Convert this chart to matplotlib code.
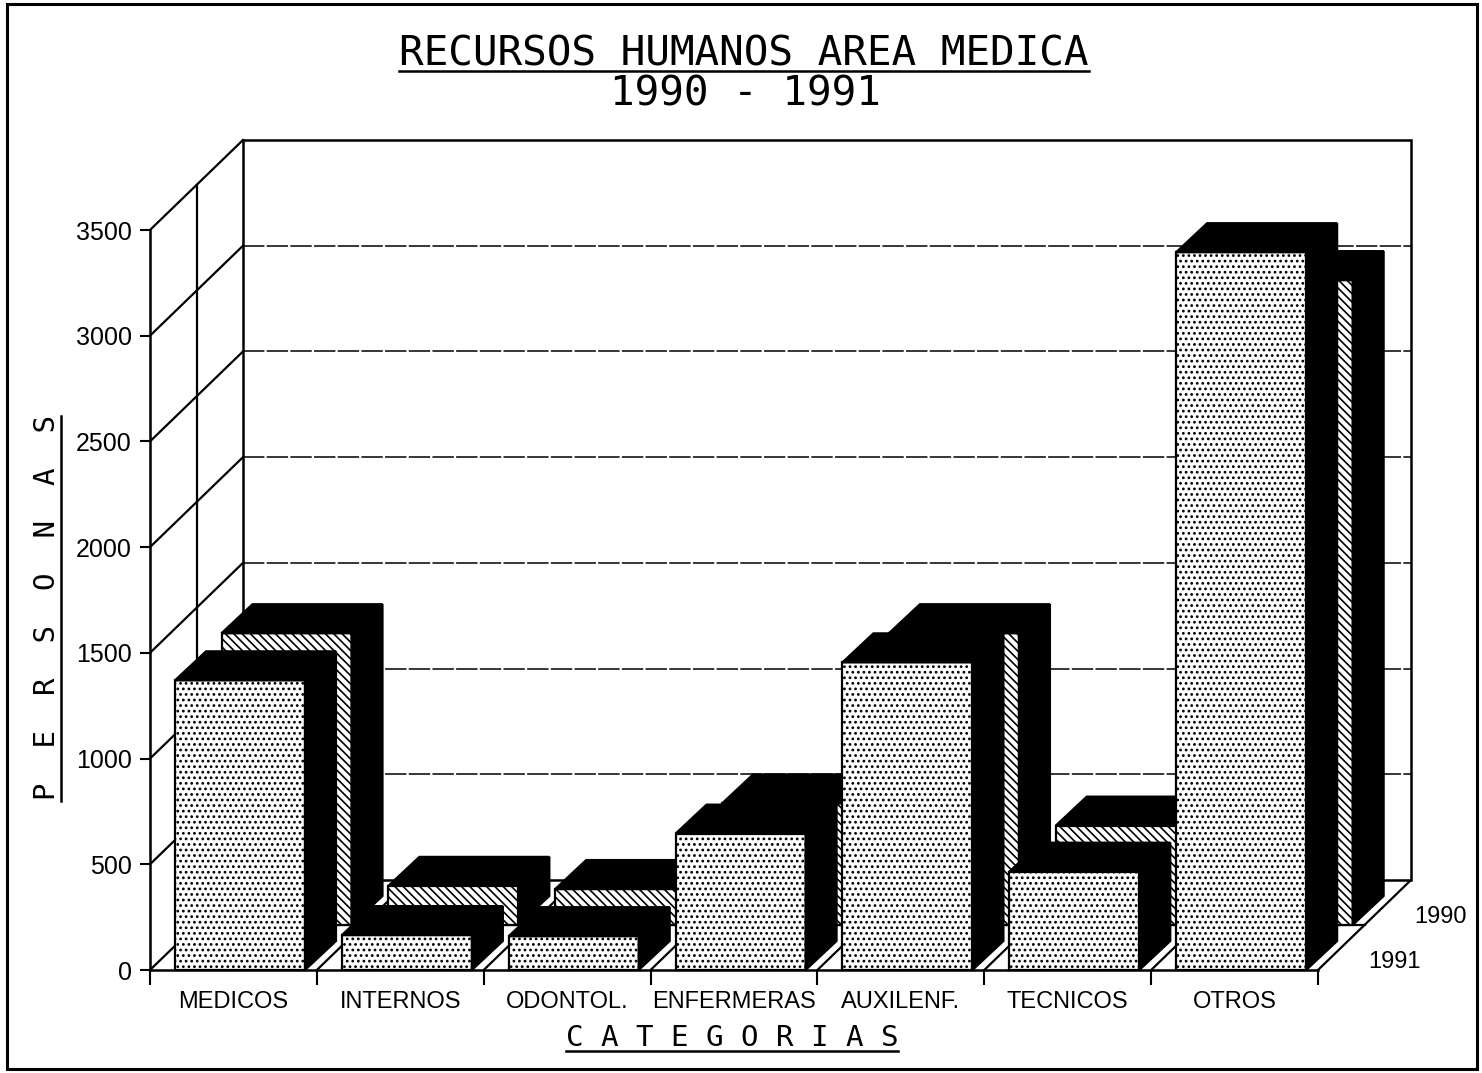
import matplotlib
matplotlib.use("Agg")
import matplotlib.pyplot as plt
from matplotlib.patches import Polygon, Rectangle
from matplotlib.lines import Line2D

plt.rcParams['font.family'] = ['Liberation Sans', 'DejaVu Sans']
plt.rcParams['hatch.linewidth'] = 1.2
MONO = ['DejaVu Sans Mono', 'DejaVu Sans']

# data
categories = ['MEDICOS', 'INTERNOS', 'ODONTOL.', 'ENFERMERAS', 'AUXILENF.', 'TECNICOS', 'OTROS']
values_1991 = [1370, 165, 160, 645, 1455, 465, 3395]
values_1990 = [1380, 185, 170, 575, 1380, 470, 3050]
years = ['1991', '1990']          # front row, back row
y_ticks = [0, 500, 1000, 1500, 2000, 2500, 3000, 3500]

W, H = 1482, 1073
fig = plt.figure(figsize=(W / 100, H / 100), dpi=100)
# axes = front plane of the 3D box
ax = fig.add_axes([150 / W, (H - 970) / H, 1168 / W, 740 / H])
ax.set_xlim(0, len(categories))
ax.set_ylim(0, 3500)
ax.patch.set_visible(False)

# oblique depth (in data units)
px_x = 1168 / len(categories)
px_y = 740 / 3500
WALL_DX, WALL_DY = 93 / px_x, 90 / px_y
ROW_DX, ROW_DY = WALL_DX / 2, WALL_DY / 2
BAR_DX, BAR_DY = 31 / px_x, 29 / px_y
BAR_W, BAR_OFF = 130 / px_x, 25 / px_x
n = len(categories)


def seg(x0, y0, x1, y1, **kw):
    kw.setdefault('color', 'black')
    kw.setdefault('lw', 1.6)
    ax.add_line(Line2D([x0, x1], [y0, y1], clip_on=False, zorder=1, **kw))


# back wall
ax.add_patch(Rectangle((WALL_DX, WALL_DY), n, 3500, fill=False, lw=1.8,
                       clip_on=False, zorder=1))
for v in y_ticks[1:-1]:
    seg(WALL_DX, v + WALL_DY, n + WALL_DX, v + WALL_DY, lw=1.1, ls=(0, (14, 1.5)))
# left wall
for v in y_ticks:
    seg(0, v, WALL_DX, v + WALL_DY)
seg(ROW_DX, ROW_DY, ROW_DX, 3500 + ROW_DY)
# floor
for k in range(1, n + 1):
    seg(k, 0, k + WALL_DX, WALL_DY)
seg(ROW_DX, ROW_DY, n + ROW_DX, ROW_DY)


def bar3d(x0, base, val, hatch, z):
    x1 = x0 + BAR_W
    top = base + val
    ax.add_patch(Polygon([(x0, base), (x1, base), (x1, top), (x0, top)],
                         closed=True, facecolor='white', edgecolor='black',
                         hatch=hatch, lw=1.6, clip_on=False, zorder=z))
    ax.add_patch(Polygon([(x0, top), (x1, top), (x1 + BAR_DX, top + BAR_DY),
                          (x0 + BAR_DX, top + BAR_DY)],
                         closed=True, facecolor='black', edgecolor='black',
                         lw=1.6, clip_on=False, zorder=z))
    ax.add_patch(Polygon([(x1, base), (x1 + BAR_DX, base + BAR_DY),
                          (x1 + BAR_DX, top + BAR_DY), (x1, top)],
                         closed=True, facecolor='black', edgecolor='black',
                         lw=1.6, clip_on=False, zorder=z))


# back row first, then front row
for i, v in enumerate(values_1990):
    bar3d(i + BAR_OFF + ROW_DX, ROW_DY, v, '\\\\\\\\', 3)
for i, v in enumerate(values_1991):
    bar3d(i + BAR_OFF, 0, v, '...', 5)

# axes, ticks, labels
for side in ['top', 'right']:
    ax.spines[side].set_visible(False)
for side in ['left', 'bottom']:
    ax.spines[side].set_linewidth(1.8)
    ax.spines[side].set_zorder(6)
ax.set_yticks(y_ticks)
ax.set_yticklabels([str(v) for v in y_ticks], fontsize=18)
ax.tick_params(axis='y', length=7, width=1.5, pad=6)
ax.set_xticks(range(n + 1))
ax.set_xticklabels([])
ax.tick_params(axis='x', which='major', length=11, width=1.5)
ax.set_xticks([i + 0.5 for i in range(n)], minor=True)
ax.set_xticklabels(categories, minor=True, fontsize=17)
ax.tick_params(axis='x', which='minor', length=0, pad=15)

for k, yr in enumerate(years):
    f = 0.25 + 0.5 * k
    ax.text(n + f * WALL_DX + 0.16, f * WALL_DY - 70, yr, fontsize=17,
            ha='left', va='center', clip_on=False)

title = fig.text(744 / W, 1 - 54 / H, 'RECURSOS HUMANOS AREA MEDICA',
                 fontsize=29.5, ha='center', va='center', family=MONO)
fig.text(745 / W, 1 - 94 / H, '1990 - 1991', fontsize=29.5,
         ha='center', va='center', family=MONO)
xlab = fig.text(732 / W, 1 - 1038 / H, 'C A T E G O R I A S', fontsize=21,
                ha='center', va='center', family=MONO)
ylab = fig.text(47 / W, 1 - 608 / H, 'P  E  R  S  O  N  A  S', fontsize=21,
                ha='center', va='center', rotation=90, family=MONO)

fig.canvas.draw()
r = fig.canvas.get_renderer()
bb = title.get_window_extent(r)
fig.add_artist(Line2D([bb.x0 / W, bb.x1 / W], [(H - 71) / H] * 2,
                      color='black', lw=1.8))
bb = xlab.get_window_extent(r)
fig.add_artist(Line2D([bb.x0 / W, bb.x1 / W], [(H - 1051) / H] * 2,
                      color='black', lw=1.8))
bb = ylab.get_window_extent(r)
fig.add_artist(Line2D([61 / W] * 2, [bb.y0 / H, bb.y1 / H],
                      color='black', lw=1.8))

fig.add_artist(Rectangle((7 / W, 4 / H), 1470 / W, 1065 / H, fill=False,
                         lw=2.2, transform=fig.transFigure))

fig.savefig('out.png', dpi=100)
